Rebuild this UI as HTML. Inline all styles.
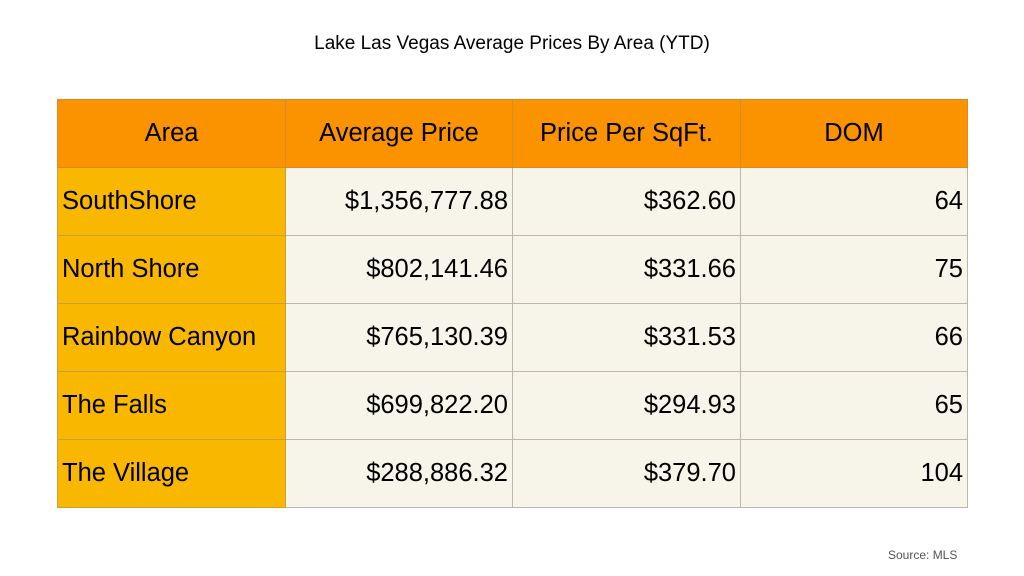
<!DOCTYPE html>
<html><head><style>
html,body{margin:0;padding:0;background:#fff;width:1024px;height:576px;overflow:hidden;font-family:"Liberation Sans",sans-serif;}
.title{position:absolute;top:33px;left:0;width:1024px;text-align:center;font-size:19px;color:#000;}
table{position:absolute;left:57px;top:99px;border-collapse:collapse;table-layout:fixed;}
td{height:68px;border:1px solid #bfb8a8;font-size:25.5px;padding:0 4px;color:#000;box-sizing:border-box;}
tr.h td{background:#fb9200;text-align:center;border-color:#d98a2a;}
td.a{background:#f9b700;text-align:left;border-color:#c9a040;}
td.n{background:#f7f5ea;text-align:right;}
.src{position:absolute;left:888px;top:548px;font-size:12px;color:#555;}
</style></head><body>
<div class="title">Lake Las Vegas Average Prices By Area (YTD)</div>
<table>
<colgroup><col style="width:228px"><col style="width:227px"><col style="width:228px"><col style="width:227px"></colgroup>
<tr class="h"><td>Area</td><td>Average Price</td><td>Price Per SqFt.</td><td>DOM</td></tr>
<tr><td class="a">SouthShore</td><td class="n">$1,356,777.88</td><td class="n">$362.60</td><td class="n">64</td></tr>
<tr><td class="a">North Shore</td><td class="n">$802,141.46</td><td class="n">$331.66</td><td class="n">75</td></tr>
<tr><td class="a">Rainbow Canyon</td><td class="n">$765,130.39</td><td class="n">$331.53</td><td class="n">66</td></tr>
<tr><td class="a">The Falls</td><td class="n">$699,822.20</td><td class="n">$294.93</td><td class="n">65</td></tr>
<tr><td class="a">The Village</td><td class="n">$288,886.32</td><td class="n">$379.70</td><td class="n">104</td></tr>
</table>
<div class="src">Source: MLS</div>
</body></html>
